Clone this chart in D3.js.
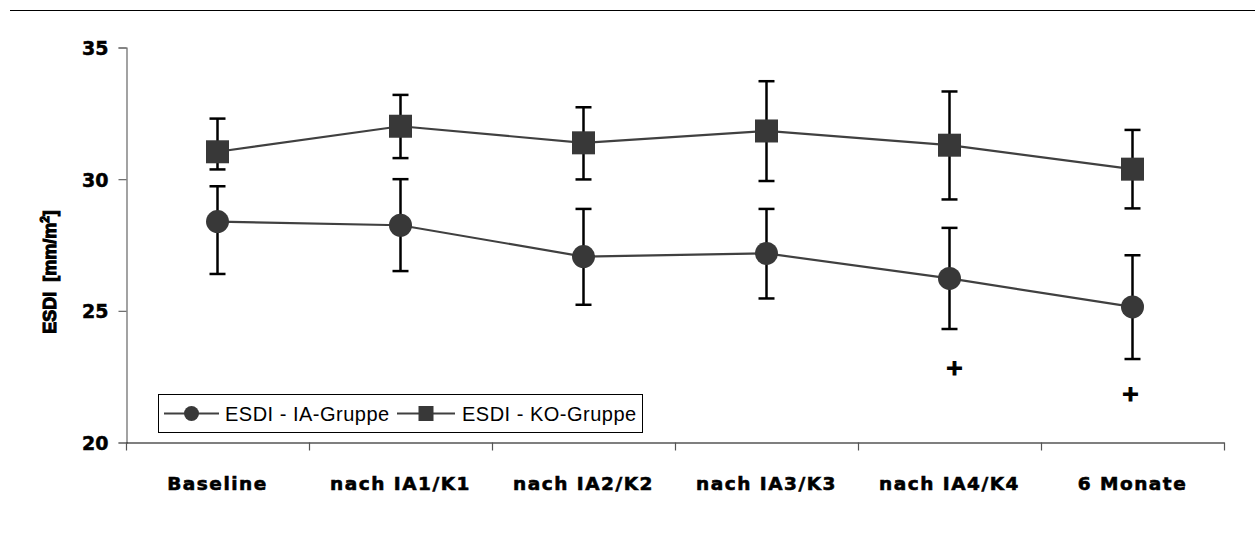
<!DOCTYPE html>
<html>
<head>
<meta charset="utf-8">
<script src="https://cdn.jsdelivr.net/npm/d3@7/dist/d3.min.js"></script>
<style>
  html, body { margin: 0; padding: 0; background: #fff; }
  svg { display: block; }
</style>
</head>
<body>
<svg id="chart" width="1255" height="533"></svg>
<script>
// ---- data ----
const categories = ["Baseline", "nach IA1/K1", "nach IA2/K2", "nach IA3/K3", "nach IA4/K4", "6 Monate"];
const iaMean  = [28.39, 28.25, 27.06, 27.18, 26.23, 25.15];
const iaUpper = [29.73, 30.00, 28.87, 28.87, 28.15, 27.11];
const iaLower = [26.40, 26.51, 25.23, 25.47, 24.31, 23.17];
const koMean  = [31.04, 32.01, 31.38, 31.83, 31.29, 30.38];
const koUpper = [32.30, 33.20, 32.73, 33.72, 33.33, 31.87];
const koLower = [30.37, 30.80, 29.99, 29.93, 29.23, 28.89];
const yTicks = [20, 25, 30, 35];
const seriesNames = ["ESDI - IA-Gruppe", "ESDI - KO-Gruppe"];
const plusMarks = [ { cat: "nach IA4/K4", value: 22.87, dx: 5 }, { cat: "6 Monate", value: 21.87, dx: -2 } ];

// ---- layout ----
const svg = d3.select("#chart");
const x = d3.scaleBand().domain(categories).range([126, 1224]).padding(0);
const y = d3.scaleLinear().domain([20, 35]).range([442.5, 47.5]);
const cx = c => x(c) + x.bandwidth() / 2;

const heavy = "'DejaVu Sans', sans-serif";
const markerFill = "#383838";

// top rule
svg.append("line").attr("x1", 10).attr("x2", 1255).attr("y1", 10.5).attr("y2", 10.5)
  .attr("stroke", "#000").attr("stroke-width", 1);

// y axis
const yAxis = d3.axisLeft(y).tickValues(yTicks).tickSize(8).tickPadding(10).tickFormat(d3.format("d"));
const gy = svg.append("g").attr("transform", "translate(126.5,0)").call(yAxis);
gy.select(".domain").attr("stroke", "#666").attr("stroke-width", 1.2);
gy.selectAll(".tick line").attr("stroke", "#666").attr("stroke-width", 1.2);
gy.selectAll(".tick text").attr("font-family", heavy).attr("font-weight", "bold")
  .attr("font-size", 19).attr("fill", "#000").attr("stroke", "#000").attr("stroke-width", 0.5)
  .attr("dy", "0.36em");

// x axis
const xAxis = d3.axisBottom(x).tickSize(0).tickPadding(34);
const gx = svg.append("g").attr("transform", "translate(0,442.5)").call(xAxis);
gx.select(".domain").attr("stroke", "#000").attr("stroke-width", 1.2);
gx.selectAll(".tick text").attr("font-family", heavy).attr("font-weight", "bold")
  .attr("font-size", 18.5).attr("fill", "#000").attr("stroke", "#000").attr("stroke-width", 0.6)
  .attr("letter-spacing", 1.5);
// category boundary ticks
const bounds = categories.map(c => x(c)).concat([x.range()[1]]);
gx.selectAll(".bnd").data(bounds).join("line").attr("class", "bnd")
  .attr("x1", d => Math.round(d) + 0.5).attr("x2", d => Math.round(d) + 0.5)
  .attr("y1", 0).attr("y2", 8).attr("stroke", "#555").attr("stroke-width", 1.2);

// y axis title
const yt = svg.append("text")
  .attr("transform", "translate(56,272) rotate(-90)")
  .attr("text-anchor", "middle")
  .attr("xml:space", "preserve")
  .style("white-space", "pre")
  .attr("font-family", "'Liberation Sans', Arial, sans-serif").attr("font-weight", "bold").attr("font-size", 18)
  .attr("fill", "#000").attr("stroke", "#000").attr("stroke-width", 1.1);
yt.append("tspan").text("ESDI  [mm/m");
yt.append("tspan").attr("font-size", 12).attr("dy", -7).text("2");
yt.append("tspan").attr("dy", 7).text("]");

// series
const series = [
  { name: seriesNames[0], mean: iaMean, up: iaUpper, lo: iaLower, shape: "circle" },
  { name: seriesNames[1], mean: koMean, up: koUpper, lo: koLower, shape: "square" }
];

const line = d3.line().x((d, i) => cx(categories[i])).y(d => y(d));

series.forEach(s => {
  const g = svg.append("g");
  // error bars
  categories.forEach((c, i) => {
    const xc = cx(c);
    g.append("line").attr("x1", xc).attr("x2", xc).attr("y1", y(s.up[i])).attr("y2", y(s.lo[i]))
      .attr("stroke", "#000").attr("stroke-width", 2.5);
    [s.up[i], s.lo[i]].forEach(v => {
      g.append("line").attr("x1", xc - 8).attr("x2", xc + 8).attr("y1", y(v)).attr("y2", y(v))
        .attr("stroke", "#000").attr("stroke-width", 2.5);
    });
  });
  // connecting line
  g.append("path").attr("d", line(s.mean)).attr("fill", "none")
    .attr("stroke", "#404040").attr("stroke-width", 2.2);
  // markers
  categories.forEach((c, i) => {
    if (s.shape === "circle") {
      g.append("circle").attr("cx", cx(c)).attr("cy", y(s.mean[i])).attr("r", 11.5).attr("fill", markerFill);
    } else {
      g.append("rect").attr("x", cx(c) - 11.5).attr("y", y(s.mean[i]) - 11.5)
        .attr("width", 23).attr("height", 23).attr("fill", markerFill);
    }
  });
});

// significance plus marks
svg.selectAll(".plus").data(plusMarks).join("text").attr("class", "plus")
  .attr("x", d => cx(d.cat) + d.dx).attr("y", d => y(d.value))
  .attr("dy", "0.35em").attr("text-anchor", "middle")
  .attr("font-family", heavy).attr("font-weight", "bold").attr("font-size", 22)
  .attr("fill", "#000").attr("stroke", "#000").attr("stroke-width", 1.2).text("+");

// legend
const lg = svg.append("g");
lg.append("rect").attr("x", 158.5).attr("y", 394.5).attr("width", 484).attr("height", 38)
  .attr("fill", "#fff").attr("stroke", "#000").attr("stroke-width", 1);
const legItems = [
  { name: seriesNames[0], shape: "circle", x0: 164, x1: 219, tx: 225 },
  { name: seriesNames[1], shape: "square", x0: 397, x1: 455, tx: 462 }
];
legItems.forEach(it => {
  const yc = 413.5;
  lg.append("line").attr("x1", it.x0).attr("x2", it.x1).attr("y1", yc).attr("y2", yc)
    .attr("stroke", "#404040").attr("stroke-width", 2.2);
  const mx = (it.x0 + it.x1) / 2;
  if (it.shape === "circle") {
    lg.append("circle").attr("cx", mx).attr("cy", yc).attr("r", 7.5).attr("fill", markerFill);
  } else {
    lg.append("rect").attr("x", mx - 7.5).attr("y", yc - 7.5).attr("width", 15).attr("height", 15).attr("fill", markerFill);
  }
  lg.append("text").attr("x", it.tx).attr("y", yc).attr("dy", "0.36em")
    .attr("font-family", "'Liberation Sans', Arial, sans-serif").attr("font-size", 20)
    .attr("letter-spacing", 0.5).attr("fill", "#000").text(it.name);
});
</script>
</body>
</html>
